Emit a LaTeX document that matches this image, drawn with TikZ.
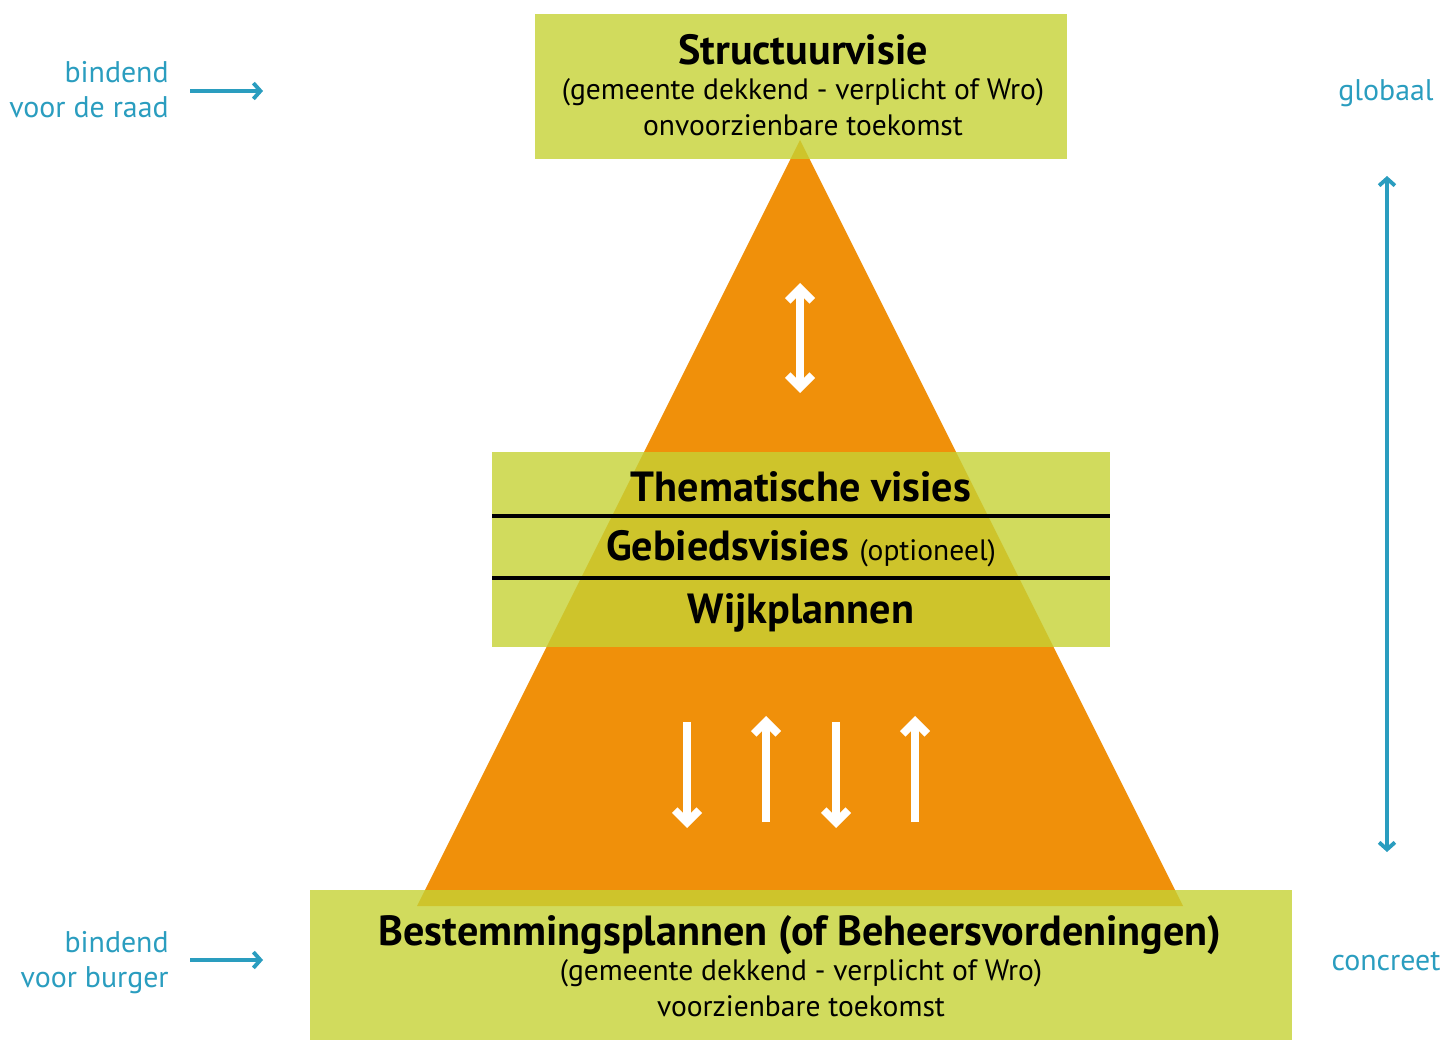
\documentclass[tikz,border=0pt]{standalone}
\usepackage{fontspec}
\setmainfont{PT Sans}
\usetikzlibrary{arrows.meta,positioning}

\definecolor{oranje}{RGB}{240,144,10}
\definecolor{groen}{RGB}{198,210,52}
\definecolor{blauw}{RGB}{42,157,191}

\tikzset{
  vak/.style={fill=groen,fill opacity=0.8},
  kop/.style={font=\fontsize{24}{28}\selectfont\bfseries,inner sep=0pt,anchor=base},
  sub/.style={font=\fontsize{16.8}{20}\selectfont,inner sep=0pt,anchor=base},
  zij/.style={text=blauw,font=\fontsize{17}{20}\selectfont,inner sep=0pt,anchor=base},
  wit/.style={draw=white,line width=4.5,-{Straight Barb[length=7pt,width=14pt,line width=4.5]}},
  wit2/.style={wit,{Straight Barb[length=7pt,width=14pt,line width=4.5]}-{Straight Barb[length=7pt,width=14pt,line width=4.5]}},
  blauwpijl/.style={draw=blauw,line width=2.2,-{Straight Barb[length=4pt,width=9pt,line width=2.2]}}
}

\begin{document}
\begin{tikzpicture}[x=0.02cm,y=-0.02cm]
\useasboundingbox (0,0) rectangle (1445,1040);

% piramide
\fill[oranje] (800,140) coordinate (top) -- (1183,906) coordinate (br) -- (417,906) coordinate (bl) -- cycle;

% vakken
\fill[vak] (535,14) coordinate (v1) rectangle (1067,159) coordinate (v2);
\fill[vak] (492,452) coordinate (m1) rectangle (1110,647) coordinate (m2);
\fill[vak] (310,890) coordinate (b1) rectangle (1292,1040) coordinate (b2);

\coordinate (l1) at (492,516); \coordinate (r1) at (1110,516);
\coordinate (l2) at (492,578); \coordinate (r2) at (1110,578);
\draw[line width=2.2] (l1) -- (r1);
\draw[line width=2.2] (l2) -- (r2);

% teksten
\node[kop] (sv) at (803,65) {Structuurvisie};
\node[sub] (sv2) at (803,100) {(gemeente dekkend - verplicht of Wro)};
\node[sub] (sv3) at (803,136) {onvoorzienbare toekomst};

\node[kop] (tv) at (801,502) {Thematische visies};
\node[kop] (gv) at (801,561) {Gebiedsvisies {\fontsize{16.8}{20}\mdseries\selectfont(optioneel)}};
\node[kop] (wp) at (801,624) {Wijkplannen};

\node[kop] (bp) at (800,945) {Bestemmingsplannen (of Beheersvordeningen)};
\node[sub] (bp2) at (801,980) {(gemeente dekkend - verplicht of Wro)};
\node[sub] (bp3) at (801,1016) {voorzienbare toekomst};

% witte pijlen
\coordinate (p0a) at (800,283); \coordinate (p0b) at (800,393);
\draw[wit2] (p0a) -- (p0b);
\foreach \x/\ya/\yb in {687/722/828,766/822/716,836/722/828,915/822/716}{
  \draw[wit] (\x,\ya) coordinate (pa) -- (\x,\yb) coordinate (pb);
}

% zijkant
\node[zij,anchor=base east] (bi1) at (169,83) {bindend};
\node[zij,anchor=base east] (vr) at (169,118) {voor de raad};
\node[zij,anchor=base east] (bi2) at (169,952) {bindend};
\node[zij,anchor=base east] (vb) at (169,987) {voor burger};
\node[zij] (gl) at (1386,101) {globaal};
\node[zij] (co) at (1386,970) {concreet};

\coordinate (a1) at (190,91); \coordinate (a2) at (263,91);
\coordinate (a3) at (190,960); \coordinate (a4) at (263,960);
\draw[blauwpijl] (a1) -- (a2);
\draw[blauwpijl] (a3) -- (a4);
\coordinate (g1) at (1387,176); \coordinate (g2) at (1387,852);
\draw[blauwpijl,{Straight Barb[length=4pt,width=9pt,line width=2.2]}-{Straight Barb[length=4pt,width=9pt,line width=2.2]}] (g1) -- (g2);
\end{tikzpicture}
\end{document}
